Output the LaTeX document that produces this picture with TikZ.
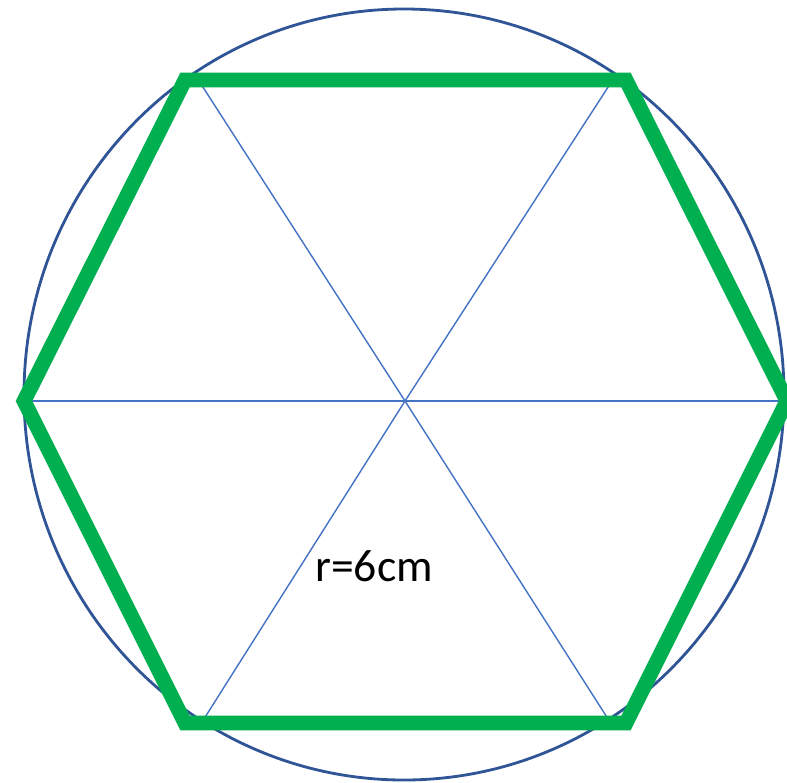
\documentclass[tikz,border=0pt]{standalone}
\usepackage{fontspec}
\setmainfont{Carlito}
\usepackage{xcolor}
\usepackage{tikz}
\definecolor{hexgreen}{HTML}{00B050}
\definecolor{rimblue}{HTML}{2F5597}
\definecolor{spokeblue}{HTML}{4472C4}
\tikzset{
    every picture/.style={line join=miter},
    hexside/.style={draw=hexgreen,line width=8.5pt,miter limit=10},
    rimline/.style={draw=rimblue,line width=1.6pt},
    spoke/.style={draw=spokeblue,line width=0.8pt},
    radiuslabel/.style={font=\fontsize{26}{30}\selectfont,text=black,inner sep=0pt}
}

\begin{document}
\begin{tikzpicture}[x=0.02cm,y=-0.02cm]
  \useasboundingbox (0,0) rectangle (787,782);
  % hexagon corners
  \coordinate (hl)  at (24,401);
  \coordinate (htl) at (185,80);
  \coordinate (htr) at (626,80);
  \coordinate (hr)  at (787,401);
  \coordinate (hbr) at (626,723);
  \coordinate (hbl) at (185,723);
  \coordinate (mid) at (405,401);
  % spoke ends on the rim
  \coordinate (sl)  at (25,401);
  \coordinate (str) at (612,81);
  \coordinate (stl) at (199,81);
  \coordinate (sr)  at (783,401);
  \coordinate (sbl) at (202,722);
  \coordinate (sbr) at (610,722);

  \draw[rimline] (404,394.5) ellipse [x radius=380,y radius=385.5];
  \foreach \e in {sl,stl,str,sr,sbl,sbr}
    \draw[spoke] (mid) -- (\e);
  \draw[hexside] (hl) -- (htl) -- (htr) -- (hr) -- (hbr) -- (hbl) -- cycle;
  \node[radiuslabel] (rlab) at (374,566) {r=6cm};
\end{tikzpicture}
\end{document}
